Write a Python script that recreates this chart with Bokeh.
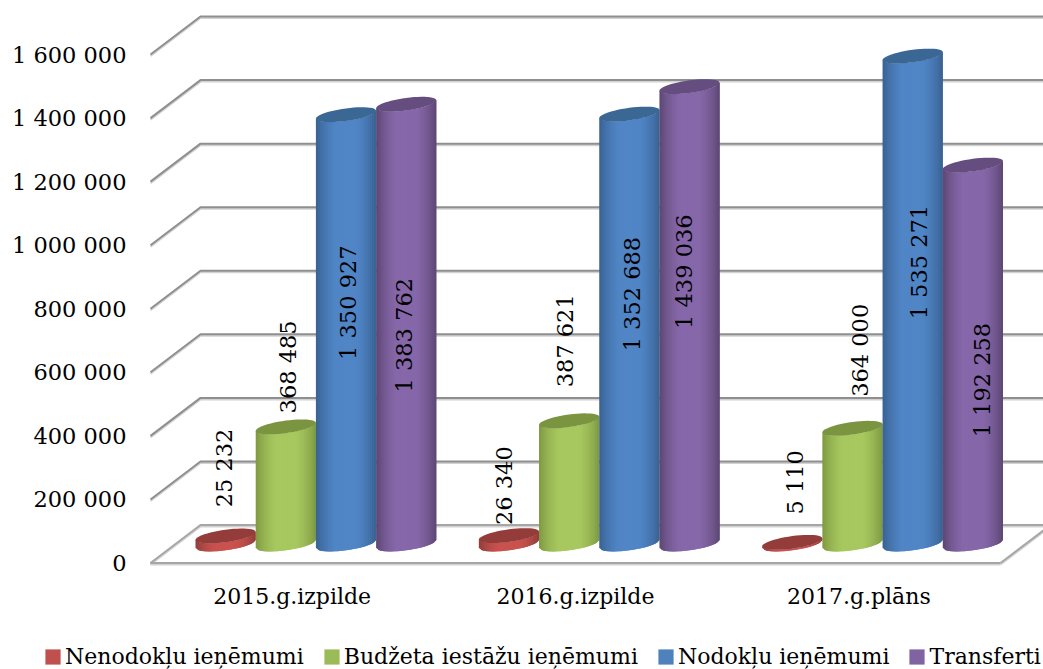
import math
from bokeh.plotting import figure
from bokeh.models import ColumnDataSource, FixedTicker, Legend, LegendItem
from bokeh.core.properties import value
from bokeh.embed import file_html
from bokeh.resources import INLINE

categories = ["2015.g.izpilde", "2016.g.izpilde", "2017.g.plāns"]
nenodoklu = [25232, 26340, 5110]
budzeta = [368485, 387621, 364000]
nodoklu = [1350927, 1352688, 1535271]
transferti = [1383762, 1439036, 1192258]
series_names = ["Nenodokļu ieņēmumi", "Budžeta iestāžu ieņēmumi", "Nodokļu ieņēmumi", "Transferti"]
series_values = [nenodoklu, budzeta, nodoklu, transferti]
y_ticks = [0, 200000, 400000, 600000, 800000, 1000000, 1200000, 1400000, 1600000]
y_tick_labels = ["0", "200 000", "400 000", "600 000", "800 000", "1 000 000", "1 200 000", "1 400 000", "1 600 000"]
data_labels = [
    ["25 232", "26 340", "5 110"],
    ["368 485", "387 621", "364 000"],
    ["1 350 927", "1 352 688", "1 535 271"],
    ["1 383 762", "1 439 036", "1 192 258"],
]

# Styling
FONT = "DejaVu Serif"
FS = "22px"
FS_NUM = "22.5px"
colors_light = ["#C9524F", "#A7C85F", "#5085C6", "#8667A9"]
colors_dark = ["#8E3C3A", "#7C9640", "#38608F", "#5A4570"]
colors_top = ["#943C39", "#7A9440", "#3B6795", "#654D80"]
colors_legend = ["#C0504D", "#9BBB59", "#4F81BD", "#8064A2"]

# Label offsets from the bar's centre x / top y, screen pixels (hand placed in the original)
label_dx = [[-2, -5, 3], [2, -4, 8], [2, 3, 6], [-2, -6, 9]]
label_dy = [[-68, -50, -60], [-60, -80, -78], [188, 180, 206], [231, 185, 215]]

# Geometry, screen pixels
W, H = 1043, 669
FLOOR_LEFT = 150.0
PX_PER_GROUP = 283.33
PX_PER_UNIT = 63.56 / 200000
DEPTH_X, DEPTH_Y = 50.0, 38.0
BAR_W = 60.2
GROUP_PAD = 45.0
ELL_B, ELL_K = 6.3, 4.0
NSTRIP = 30

# x data: 0 = front-left floor corner; y data = value on the front plane
x_start = -FLOOR_LEFT / PX_PER_GROUP
x_end = (W - FLOOR_LEFT) / PX_PER_GROUP
y_front_px = 562.5
y_end = y_front_px / PX_PER_UNIT
y_start = (y_front_px - H) / PX_PER_UNIT

dx = 1 / PX_PER_GROUP   # data per pixel horizontally
dy = 1 / PX_PER_UNIT    # data per pixel vertically

p = figure(width=W, height=H, x_range=(x_start, x_end), y_range=(y_start, y_end),
           toolbar_location=None, output_backend="svg",
           min_border_left=0, min_border_right=0, min_border_top=0,
           min_border_bottom=0, outline_line_color=None,
           background_fill_color=None, border_fill_color=None)
p.grid.visible = False

# Walls / floor grid
n = len(categories)
xs, ys = [], []
for v in y_ticks[1:]:
    xs.append([0, DEPTH_X * dx, x_end])
    ys.append([v, v + DEPTH_Y * dy, v + DEPTH_Y * dy])
# soft shadow beneath each grid line
p.multi_line(xs, [[c - 1.5 * dy for c in line] for line in ys], line_color="#D2D2D2", line_width=2)
p.multi_line(xs, ys, line_color="#8F8F8F", line_width=2)
fx = [[n, 0, DEPTH_X * dx, x_end], [n, n + DEPTH_X * dx]]
fy = [[0, 0, DEPTH_Y * dy, DEPTH_Y * dy], [0, DEPTH_Y * dy]]
p.multi_line(fx, [[c - 1.5 * dy for c in line] for line in fy], line_color="#D2D2D2", line_width=2)
p.multi_line(fx, fy, line_color="#A6A6A6", line_width=2)


def shade(c_dark, c_light, t):
    f = min(1.0, math.sin(math.pi * t) ** 0.8 * 1.12)
    a = [int(c_dark[i:i + 2], 16) for i in (1, 3, 5)]
    b = [int(c_light[i:i + 2], 16) for i in (1, 3, 5)]
    return "#%02x%02x%02x" % tuple(round(a[k] + (b[k] - a[k]) * f) for k in range(3))


sx, sy, sc = [], [], []
lab_x, lab_y, lab_t = [], [], []
base = DEPTH_Y / 2 * dy
for g in range(n):
    for j, vals in enumerate(series_values):
        v = vals[g]
        cx = g + (GROUP_PAD + (j + 0.5) * BAR_W) * dx
        a = BAR_W / 2 * dx
        for s in range(NSTRIP):
            u0 = -1 + 2 * s / NSTRIP
            u1 = min(1.0, -1 + 2 * (s + 2) / NSTRIP)
            y_at = lambda u, c: c + (ELL_K * u - ELL_B * math.sqrt(max(0, 1 - u * u))) * dy
            sx.append([cx + u0 * a, cx + u1 * a, cx + u1 * a, cx + u0 * a])
            sy.append([y_at(u0, base), y_at(u1, base), y_at(u1, base + v), y_at(u0, base + v)])
            sc.append(shade(colors_dark[j], colors_light[j], (s + 0.5) / NSTRIP))
        ex, ey = [], []
        for k in range(48):
            t = 2 * math.pi * k / 48
            ex.append(cx + a * math.cos(t))
            ey.append(base + v + (ELL_K * math.cos(t) + ELL_B * math.sin(t)) * dy)
        sx.append(ex)
        sy.append(ey)
        sc.append(colors_top[j])
        lab_x.append(cx + label_dx[j][g] * dx)
        lab_y.append(base + v - label_dy[j][g] * dy)
        lab_t.append(data_labels[j][g])

src = ColumnDataSource(dict(xs=sx, ys=sy, c=sc))
p.patches("xs", "ys", source=src, fill_color="c", line_color=None)
p.text(lab_x, lab_y, text=lab_t, angle=math.pi / 2, text_align="center", text_baseline="middle",
       text_font=value(FONT), text_font_size=FS_NUM, text_color="black")

# Axes
p.yaxis.fixed_location = -12 * dx
p.yaxis.ticker = FixedTicker(ticks=y_ticks)
p.yaxis.major_label_overrides = dict(zip(y_ticks, y_tick_labels))
p.yaxis.axis_line_color = None
p.yaxis.major_tick_line_color = None
p.yaxis.minor_tick_line_color = None
p.yaxis.major_label_standoff = 6
p.yaxis.major_label_text_font = FONT
p.yaxis.major_label_text_font_size = FS_NUM
p.yaxis.major_label_text_color = "black"

centers = [g + 0.5 for g in range(n)]
p.xaxis.fixed_location = -10 * dy
p.xaxis.ticker = FixedTicker(ticks=centers)
p.xaxis.major_label_overrides = dict(zip(centers, categories))
p.xaxis.axis_line_color = None
p.xaxis.major_tick_line_color = None
p.xaxis.minor_tick_line_color = None
p.xaxis.major_label_standoff = 5
p.xaxis.major_label_text_font = FONT
p.xaxis.major_label_text_font_size = FS
p.xaxis.major_label_text_color = "black"

# Legend
items = []
for name, col in zip(series_names, colors_legend):
    # A single out-of-view bar gives the legend entry its swatch
    r = p.vbar(x=[x_start - 1], top=[0], width=0.1, fill_color=col, line_color=None)
    items.append(LegendItem(label=name, renderers=[r]))
legend = Legend(items=items, orientation="horizontal", location=(43, 0), border_line_color=None,
                background_fill_color=None, background_fill_alpha=0, padding=0, margin=0, spacing=18,
                glyph_width=19, glyph_height=19, label_standoff=3,
                label_text_font=FONT, label_text_font_size=FS, label_text_color="black")
p.add_layout(legend, "center")

open("out.html", "w").write(file_html(p, INLINE))
